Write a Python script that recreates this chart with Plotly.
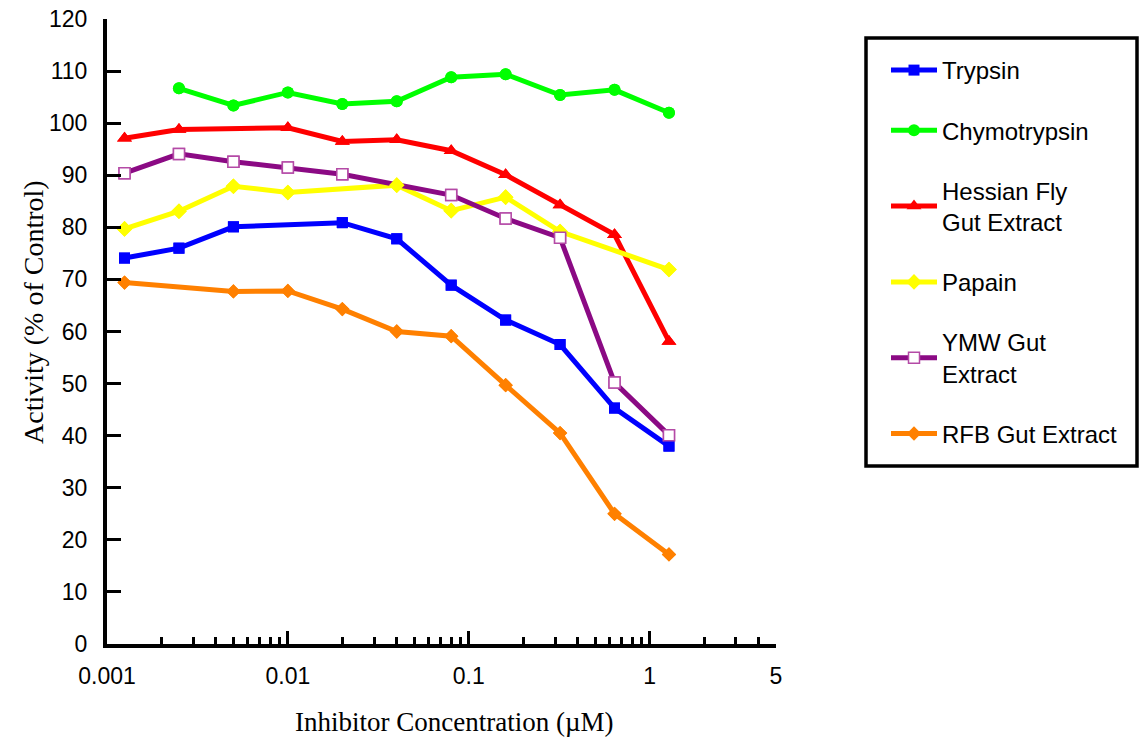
import math
import plotly.graph_objects as go

# Inhibitor concentrations (µM)
concentration = [0.00125, 0.0025, 0.005, 0.01, 0.02, 0.04, 0.08, 0.16, 0.32, 0.64, 1.28]

# Activity (% of control); None = not measured at that concentration
trypsin = [74.1, 76.0, 80.1, None, 80.9, 77.8, 68.9, 62.2, 57.5, 45.3, 38.0]
chymotrypsin = [None, 106.7, 103.4, 105.9, 103.7, 104.2, 108.8, 109.4, 105.4, 106.4, 102.0]
hessian_fly = [97.1, 98.8, None, 99.1, 96.5, 96.8, 94.7, 90.1, 84.3, 78.6, 58.1]
papain = [79.7, 83.1, 87.9, 86.7, None, 88.1, 83.2, 85.8, 79.2, None, 71.9]
ymw_gut = [90.4, 94.1, 92.6, 91.5, 90.2, None, 86.2, 81.7, 78.0, 50.2, 40.1]
rfb_gut = [69.4, None, 67.7, 67.8, 64.3, 60.0, 59.1, 49.7, 40.5, 25.0, 17.2]

x_tick_vals = [0.001, 0.01, 0.1, 1, 5]
x_tick_text = ["0.001", "0.01", "0.1", "1", "5"]
x_minor_vals = [m * 10 ** e for e in (-3, -2, -1) for m in range(2, 10)] + [2, 3, 4]

series = [
    ("Trypsin", trypsin, "#0000ff", "square", 11, "#0000ff", 0, "#0000ff"),
    ("Chymotrypsin", chymotrypsin, "#00ff00", "circle", 12, "#00ff00", 0, "#00ff00"),
    ("Hessian Fly<br>Gut Extract", hessian_fly, "#ff0000", "triangle-up", 13, "#ff0000", 0, "#ff0000"),
    ("Papain", papain, "#ffff00", "diamond", 12, "#ffff00", 0, "#ffff00"),
    ("YMW Gut<br>Extract", ymw_gut, "#8b0a84", "square", 11, "#ffffff", 1.5, "#b44aa6"),
    ("RFB Gut Extract", rfb_gut, "#ff8000", "diamond", 11, "#ff8000", 0, "#ff8000"),
]

# page layout (pixels)
W, H = 1141, 751
L, R, T, B = 107, 365, 19, 107
pw, ph = W - L - R, H - T - B


def px_x(px):
    return (px - L) / pw


def px_y(py):
    return (H - B - py) / ph


fig = go.Figure()

# lines (with legend entries)
for i, (name, vals, color, sym, size, fill, lw, lc) in enumerate(series):
    fig.add_trace(go.Scatter(
        x=concentration, y=vals, name=name, mode="lines+markers",
        connectgaps=True, legendgroup=f"g{i}",
        line=dict(color=color, width=5),
        marker=dict(symbol=sym, size=size, color=fill,
                    line=dict(width=lw, color=lc)),
    ))

# markers redrawn above every line
for i, (name, vals, color, sym, size, fill, lw, lc) in enumerate(series):
    fig.add_trace(go.Scatter(
        x=concentration, y=vals, mode="markers", showlegend=False,
        legendgroup=f"g{i}", hoverinfo="skip",
        marker=dict(symbol=sym, size=size, color=fill,
                    line=dict(width=lw, color=lc)),
    ))

sans = "Liberation Sans, Arial, sans-serif"
serif = "Liberation Serif, Times New Roman, serif"

fig.update_xaxes(
    type="log", range=[-3, math.log10(5)],
    tickmode="array", tickvals=x_tick_vals, ticktext=x_tick_text,
    ticks="inside", ticklen=13, tickwidth=3, tickcolor="black",
    minor=dict(tickmode="array", tickvals=x_minor_vals, ticks="inside",
               ticklen=7, tickwidth=3, tickcolor="black", showgrid=False),
    showline=True, linewidth=4, linecolor="black",
    showgrid=False, zeroline=False,
    tickfont=dict(family=sans, size=23, color="black"),
    ticklabelstandoff=8,
)
fig.update_yaxes(
    range=[0, 120], tickmode="linear", tick0=0, dtick=10,
    ticks="inside", ticklen=14, tickwidth=3, tickcolor="black",
    showline=True, linewidth=4, linecolor="black",
    showgrid=False, zeroline=False,
    tickfont=dict(family=sans, size=23, color="black"),
    ticklabelstandoff=11,
)

fig.add_annotation(
    text="Activity (% of Control)", textangle=-90,
    x=px_x(33), y=px_y(312), xref="paper", yref="paper",
    xanchor="center", yanchor="middle",
    showarrow=False, font=dict(family=serif, size=28, color="black"),
)
fig.add_annotation(
    text="Inhibitor Concentration (µM)",
    x=px_x(455), y=px_y(722), xref="paper", yref="paper",
    xanchor="center", yanchor="middle",
    showarrow=False, font=dict(family=serif, size=27, color="black"),
)

# legend frame
fig.add_shape(
    type="rect", xref="paper", yref="paper",
    x0=px_x(866), x1=px_x(1137), y0=px_y(466), y1=px_y(38),
    line=dict(color="black", width=3.5), fillcolor="rgba(0,0,0,0)",
)

fig.update_layout(
    width=W, height=H,
    margin=dict(l=L, r=R, t=T, b=B, autoexpand=False),
    paper_bgcolor="white", plot_bgcolor="white",
    showlegend=True,
    legend=dict(
        xref="container", yref="container",
        x=886 / W, y=1 - 48 / H, xanchor="left", yanchor="top",
        bgcolor="rgba(0,0,0,0)", borderwidth=0,
        font=dict(family=sans, size=24, color="black"),
        tracegroupgap=26, itemwidth=46, maxheight=700,
    ),
)

fig.write_html("out.html")
